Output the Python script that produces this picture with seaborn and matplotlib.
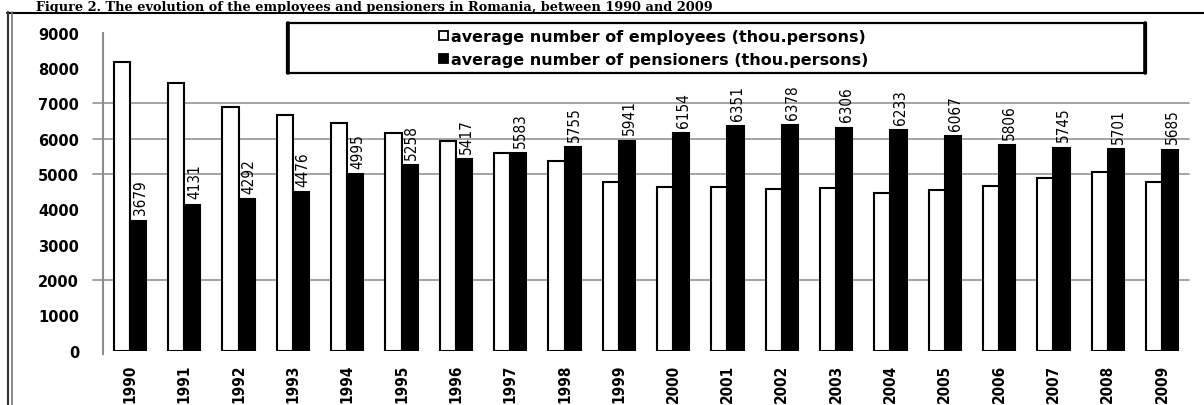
import matplotlib
matplotlib.use("Agg")
import matplotlib.pyplot as plt
import matplotlib.patches as mpatches
from matplotlib.lines import Line2D
from matplotlib import font_manager
from matplotlib.font_manager import FontProperties
from matplotlib.ticker import FixedLocator
import seaborn as sns
import pandas as pd

# ---- data ----------------------------------------------------------------
years = ["1990", "1991", "1992", "1993", "1994", "1995", "1996", "1997", "1998", "1999",
         "2000", "2001", "2002", "2003", "2004", "2005", "2006", "2007", "2008", "2009"]
employees = [8156, 7574, 6888, 6672, 6438, 6160, 5939, 5597, 5369, 4761,
             4623, 4619, 4568, 4591, 4469, 4559, 4667, 4885, 5046, 4774]
pensioners = [3679, 4131, 4292, 4476, 4995, 5258, 5417, 5583, 5755, 5941,
              6154, 6351, 6378, 6306, 6233, 6067, 5806, 5745, 5701, 5685]
series_names = ["average number of employees (thou.persons)",
                "average number of pensioners (thou.persons)"]
y_ticks = [0, 1000, 2000, 3000, 4000, 5000, 6000, 7000, 8000, 9000]
grid_levels = [2000, 5000, 6000, 7000]
title = "Figure 2. The evolution of the employees and pensioners in Romania, between 1990 and 2009"

df = pd.DataFrame({
    "year": years * 2,
    "value": employees + pensioners,
    "series": [series_names[0]] * len(years) + [series_names[1]] * len(years),
})

# ---- fonts ---------------------------------------------------------------
sns.set_style("white")
plt.rcParams["font.family"] = ["DejaVu Sans"]
plt.rcParams["text.color"] = "black"
plt.rcParams["xtick.color"] = "black"
plt.rcParams["ytick.color"] = "black"
plt.rcParams["legend.labelcolor"] = "black"


def find_narrow(bold):
    """Return a FontProperties for a narrow/condensed sans face, if one is installed."""
    cands = []
    for f in font_manager.fontManager.ttflist:
        tag = (f.name + " " + f.fname).lower()
        if ("narrow" in tag or "condensed" in tag or str(f.stretch).lower() in
                ("condensed", "semi-condensed", "extra-condensed")) and "mono" not in tag \
                and "serif" not in f.name.lower():
            w = f.weight if isinstance(f.weight, int) else (700 if "bold" in str(f.weight) else 400)
            ital = "italic" in str(f.style) or "oblique" in str(f.style)
            if ital:
                continue
            cands.append((abs(w - (700 if bold else 400)), f.fname))
    if cands:
        cands.sort()
        return FontProperties(fname=cands[0][1])
    return None


narrow_reg = find_narrow(False)
narrow_bold = find_narrow(True)


def narrow_font(bold, size):
    fp = (narrow_bold if bold else narrow_reg)
    if fp is not None:
        fp = fp.copy()
        fp.set_size(size)
        return fp
    return FontProperties(family="DejaVu Sans", weight="bold" if bold else "normal",
                          size=size * 0.78)


W, H = 1204, 406
fig = plt.figure(figsize=(W / 100, H / 100), dpi=100)
fig.patch.set_facecolor("white")


def fx(x):
    return x / W


def fy(y):
    return 1 - y / H


ax_left, ax_right, ax_top, ax_bottom = 102.7, 1189.3, 33.5, 351.7
ax = fig.add_axes([fx(ax_left), fy(ax_bottom), fx(ax_right - ax_left), (ax_bottom - ax_top) / H])

palette = {series_names[0]: "white", series_names[1]: "black"}
sns.barplot(data=df, x="year", y="value", hue="series", hue_order=series_names,
            palette=palette, width=0.6, gap=0, edgecolor="black", linewidth=1.5,
            saturation=1, legend=False, ax=ax, zorder=3)

ax.set_xlim(-0.5, len(years) - 0.5)
ax.set_ylim(0, 9000)
ax.set_xlabel("")
ax.set_ylabel("")

# gridlines, extended slightly left of the value axis
for lev in grid_levels:
    ax.axhline(lev, xmin=-(ax_left - 93) / (ax_right - ax_left), xmax=1,
               color="#939393", lw=1.2, clip_on=False, zorder=1)

for side in ["top", "right", "bottom"]:
    ax.spines[side].set_visible(False)
ax.spines["left"].set_color("#8c8c8c")
ax.spines["left"].set_linewidth(1.5)
ax.spines["left"].set_bounds(-90, 9000)

ax.set_yticks(y_ticks)
ax.set_yticklabels([str(v) for v in y_ticks], fontsize=10.5, fontweight="bold",
                   family="DejaVu Sans", color="black")
ax.tick_params(axis="y", length=0, pad=17)

ax.set_xticks(range(len(years)))
ax.set_xticklabels(years, rotation=90, color="black")
for lbl in ax.get_xticklabels():
    lbl.set_fontproperties(narrow_font(True, 11))
ax.tick_params(axis="x", which="major", length=0, pad=9.5)
ax.xaxis.set_minor_locator(FixedLocator([i - 0.5 for i in range(len(years) + 1)]))
ax.tick_params(axis="x", which="minor", length=3.5, width=1, color="#8c8c8c", direction="out")

# value labels above the pensioner bars
for i, v in enumerate(pensioners):
    ax.annotate(str(v), xy=(i + 0.15, v), xytext=(1.5, 4.5), textcoords="offset points",
                rotation=90, ha="center", va="bottom", fontproperties=narrow_font(False, 11),
                color="black", zorder=5)

# legend inside a framed box
handles = [mpatches.Patch(facecolor="white", edgecolor="black", lw=1.3, label=series_names[0]),
           mpatches.Patch(facecolor="black", edgecolor="black", lw=1.3, label=series_names[1])]
leg = ax.legend(handles=handles, loc="upper left", bbox_to_anchor=(fx(439), fy(30)),
                bbox_transform=fig.transFigure, frameon=False, borderpad=0, borderaxespad=0,
                handlelength=0.58, handleheight=0.45, handletextpad=0.2, labelspacing=0.5,
                labelcolor="black",
                prop={"family": "DejaVu Sans", "weight": "bold", "size": 11.5})
fig.add_artist(mpatches.Rectangle((fx(287), fy(74)), fx(1146 - 287), (74 - 24) / H,
                                  transform=fig.transFigure, fill=False,
                                  edgecolor="black", lw=1.6))
for xl in (288, 1145):
    fig.add_artist(Line2D([fx(xl), fx(xl)], [fy(24), fy(74)], transform=fig.transFigure,
                          color="black", lw=2.6))

# page frame: rule under the caption and double rule on the left
fig.add_artist(Line2D([fx(7), 1], [fy(13.6), fy(13.6)], transform=fig.transFigure,
                      color="black", lw=1.5))
fig.add_artist(Line2D([fx(8), fx(8)], [fy(13), 0], transform=fig.transFigure,
                      color="#333333", lw=1.5))
fig.add_artist(Line2D([fx(12), fx(12)], [fy(13), 0], transform=fig.transFigure,
                      color="#777777", lw=1.2))

# caption above the frame rule
fig.text(fx(36), fy(0.5), title, ha="left", va="top", family="DejaVu Serif",
         fontweight="bold", fontsize=9.3, color="black")

fig.savefig("out.png", dpi=100, facecolor="white")
